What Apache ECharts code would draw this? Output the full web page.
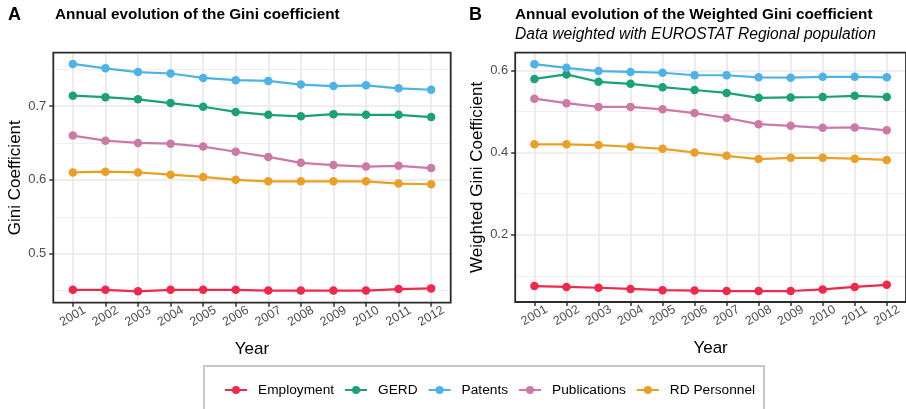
<!DOCTYPE html>
<html>
<head>
<meta charset="utf-8">
<script src="https://cdn.jsdelivr.net/npm/echarts@6/dist/echarts.min.js"></script>
<style>
html,body{margin:0;padding:0;background:#fff;}
#chart{width:906px;height:409px;}
</style>
</head>
<body>
<div id="chart"></div>
<script>
const years = [2001,2002,2003,2004,2005,2006,2007,2008,2009,2010,2011,2012];
const seriesNames = ['Employment','GERD','Patents','Publications','RD Personnel'];
const colors = ['#F0284A','#1BA078','#4DB3E6','#CC79A7','#E9A024'];

// Panel A: Gini coefficient
const giniEmployment   = [0.451,0.451,0.449,0.451,0.451,0.451,0.450,0.450,0.450,0.450,0.452,0.453];
const giniGERD         = [0.714,0.712,0.709,0.704,0.699,0.692,0.688,0.686,0.689,0.688,0.688,0.685];
const giniPatents      = [0.757,0.751,0.746,0.744,0.738,0.735,0.734,0.729,0.727,0.728,0.724,0.722];
const giniPublications = [0.660,0.653,0.650,0.649,0.645,0.638,0.631,0.623,0.620,0.618,0.619,0.616];
const giniRDPersonnel  = [0.610,0.611,0.610,0.607,0.604,0.600,0.598,0.598,0.598,0.598,0.595,0.594];

// Panel B: Weighted Gini coefficient
const wGiniEmployment   = [0.075,0.073,0.071,0.068,0.065,0.064,0.063,0.063,0.063,0.067,0.073,0.078];
const wGiniGERD         = [0.579,0.590,0.572,0.567,0.559,0.552,0.545,0.533,0.534,0.535,0.538,0.535];
const wGiniPatents      = [0.615,0.606,0.598,0.596,0.594,0.588,0.588,0.583,0.582,0.584,0.584,0.583];
const wGiniPublications = [0.531,0.520,0.511,0.511,0.505,0.496,0.484,0.469,0.465,0.460,0.461,0.454];
const wGiniRDPersonnel  = [0.420,0.420,0.418,0.414,0.409,0.400,0.392,0.384,0.387,0.387,0.385,0.382];

const yTicksA = [0.5,0.6,0.7];
const yMinorA = [0.45,0.55,0.65,0.75];
const yTicksB = [0.2,0.4,0.6];
const yMinorB = [0.1,0.3,0.5];

const panelA = [giniEmployment,giniGERD,giniPatents,giniPublications,giniRDPersonnel];
const panelB = [wGiniEmployment,wGiniGERD,wGiniPatents,wGiniPublications,wGiniRDPersonnel];

const FONT = '"Liberation Sans", Arial, sans-serif';
const gridLine = '#E8E8E8';

function xAxisCfg(gi){
  return {
    type:'value', gridIndex:gi, min:2000.4, max:2012.6,
    name:'Year', nameLocation:'middle', nameGap:38,
    nameTextStyle:{fontFamily:FONT,fontSize:17,color:'#000'},
    axisLine:{show:false},
    axisTick:{show:true, customValues:years, length:4, lineStyle:{color:'#333',width:1.5}},
    axisLabel:{customValues:years, formatter:v=>String(v), rotate:30, align:'center', verticalAlign:'middle',
      margin:13.5, fontFamily:FONT, fontSize:12.5, color:'#4D4D4D'},
    splitLine:{show:true, lineStyle:{color:gridLine,width:1.6}}
  };
}
function yAxisCfg(gi,min,max,ticks,name){
  return {
    type:'value', gridIndex:gi, min:min, max:max,
    name:name, nameLocation:'middle', nameGap:29.5,
    nameTextStyle:{fontFamily:FONT,fontSize:17,color:'#000'},
    axisLine:{show:false},
    axisTick:{show:true, customValues:ticks, length:4, lineStyle:{color:'#333',width:1.5}},
    axisLabel:{customValues:ticks, formatter:v=>String(v), margin:7, fontFamily:FONT, fontSize:13, color:'#4D4D4D'},
    splitLine:{show:true, lineStyle:{color:gridLine,width:1.6}}
  };
}
function yMinorCfg(gi,min,max,ticks){
  return {
    type:'value', gridIndex:gi, min:min, max:max, position:'left',
    axisLine:{show:false},
    axisTick:{show:false, customValues:ticks},
    axisLabel:{show:false, customValues:ticks},
    splitLine:{show:true, lineStyle:{color:'#EDEDED',width:0.9}}
  };
}

const series = [];
[panelA,panelB].forEach((panel,pi)=>{
  panel.forEach((vals,si)=>{
    series.push({
      name:seriesNames[si], type:'line', xAxisIndex:pi, yAxisIndex:pi*2,
      data:years.map((y,i)=>[y,vals[i]]),
      symbol:'circle', symbolSize:8.5, showSymbol:true,
      lineStyle:{width:2.2,color:colors[si]},
      itemStyle:{color:colors[si]},
      emphasis:{disabled:true}, animation:false, z:3
    });
  });
});

const titleStyle = {fontFamily:FONT,fontSize:15.3,fontWeight:'bold',color:'#000'};
const chart = echarts.init(document.getElementById('chart'),null,{renderer:'canvas'});
chart.setOption({
  animation:false,
  color:colors,
  textStyle:{fontFamily:FONT},
  title:[
    {text:'A', left:3, top:1, textStyle:{fontFamily:FONT,fontSize:18,fontWeight:'bold',color:'#000'}},
    {text:'Annual evolution of the Gini coefficient', left:50, top:2, textStyle:titleStyle},
    {text:'B', left:464, top:1, textStyle:{fontFamily:FONT,fontSize:18,fontWeight:'bold',color:'#000'}},
    {text:'Annual evolution of the Weighted Gini coefficient', left:510, top:2, textStyle:titleStyle},
    {text:'Data weighted with EUROSTAT Regional population', left:510, top:22,
     textStyle:{fontFamily:FONT,fontSize:15.6,fontStyle:'italic',fontWeight:'normal',color:'#000'}}
  ],
  grid:[
    {left:53.3, top:52.7, width:397.4, height:250, show:true, borderColor:'#2B2B2B', borderWidth:1.8, backgroundColor:'transparent', z:5},
    {left:515.2, top:52.7, width:397, height:249.3, show:true, borderColor:'#2B2B2B', borderWidth:1.8, backgroundColor:'transparent', z:5}
  ],
  xAxis:[xAxisCfg(0), xAxisCfg(1)],
  yAxis:[
    yAxisCfg(0,0.4336,0.7722,yTicksA,'Gini Coefficient'),
    yMinorCfg(0,0.4336,0.7722,yMinorA),
    yAxisCfg(1,0.0363,0.6428,yTicksB,'Weighted Gini Coefficient'),
    yMinorCfg(1,0.0363,0.6428,yMinorB)
  ],
  legend:{
    data:seriesNames, left:204, top:366, orient:'horizontal',
    padding:[17,9,14,20], itemGap:10, itemWidth:22, itemHeight:10,
    borderColor:'#C8C8C8', borderWidth:2,
    textStyle:{fontFamily:FONT,fontSize:13.7,color:'#000',padding:[0,0,0,6]},
    selectedMode:false
  },
  series:series
});
</script>
</body>
</html>
